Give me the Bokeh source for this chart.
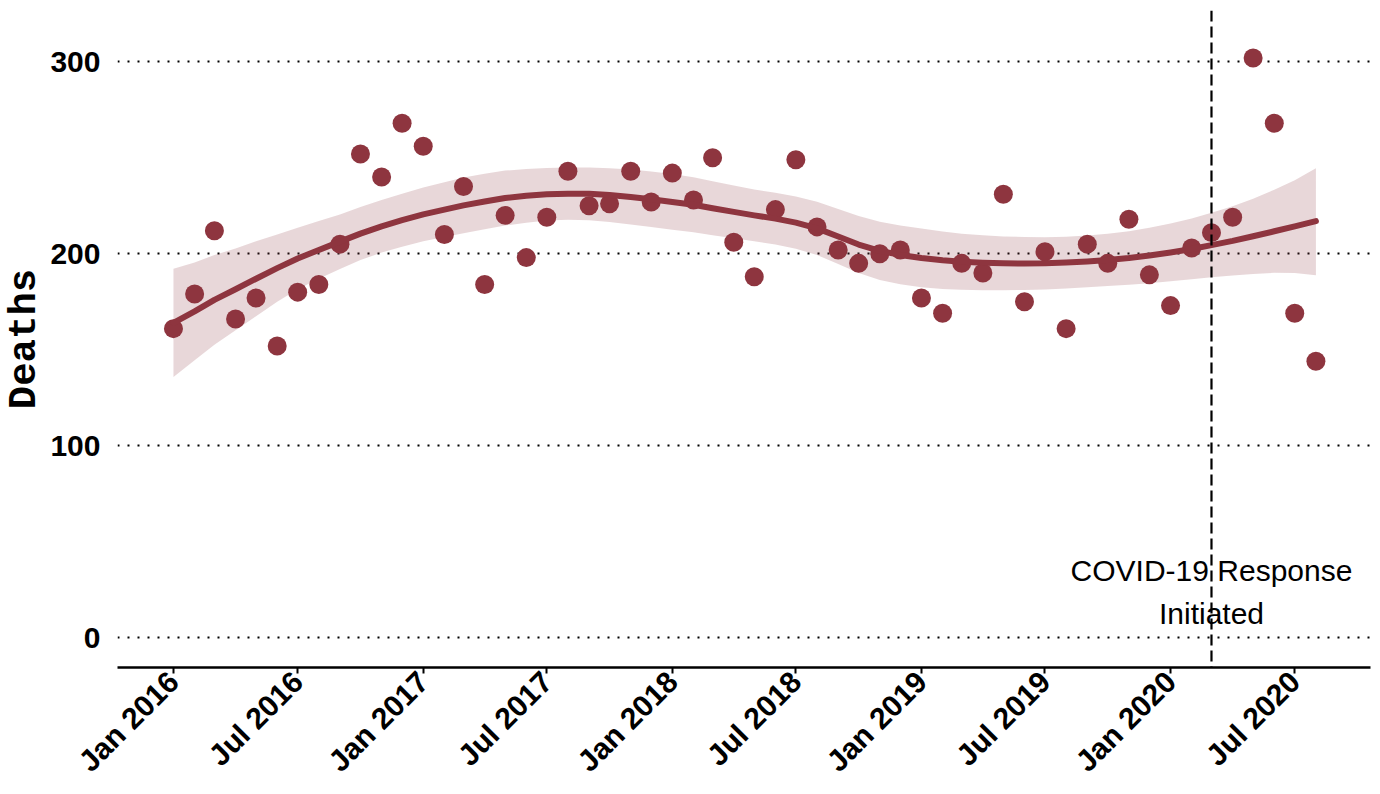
import pandas as pd
from math import pi
from bokeh.plotting import figure
from bokeh.models import Range1d, FixedTicker, DatetimeTickFormatter, Span, ColumnDataSource
from bokeh.core.properties import value
from bokeh.embed import file_html
from bokeh.resources import INLINE

RED = "#8E353F"

# Monthly deaths, Jan 2016 .. Aug 2020
months = list(pd.date_range("2016-01-01", "2020-08-01", freq="MS"))
deaths = [
    161, 179, 212, 166, 177, 152, 180, 184, 205, 252, 240, 268,   # 2016
    256, 210, 235, 184, 220, 198, 219, 243, 225, 226, 243, 227,   # 2017
    242, 228, 250, 206, 188, 223, 249, 214, 202, 195, 200, 202,   # 2018
    177, 169, 195, 190, 231, 175, 201, 161, 205, 195, 218, 189,   # 2019
    173, 203, 211, 219, 302, 268, 169, 144,                       # 2020
]

# Smoothed trend and its confidence band (monthly)
fit_mid = [
    164, 170, 176, 181.5, 187, 192.5, 197.5, 202, 206.3, 210.5, 214.3, 217.5,
    220.5, 223, 225.2, 227.2, 229, 230.2, 231, 231.3, 231.2, 230.6, 229.6, 228.4,
    227, 225.5, 223.7, 221.8, 220, 218.3, 216.2, 213.2, 209, 204.8, 201.5, 199.4,
    197.8, 196.6, 195.8, 195.3, 195, 194.9, 195, 195.4, 196, 196.8, 197.8, 199.1,
    200.7, 202.5, 204.5, 206.7, 209.1, 211.7, 214.3, 217,
]
fit_hi = [
    192.2, 195.5, 199.4, 202.8, 206.5, 210, 213.5, 217, 220.5, 224.3, 228, 231.3,
    234.5, 237.3, 239.7, 241.7, 243.3, 244.2, 244.7, 244.9, 244.9, 244.6, 243.9, 242.9,
    241.5, 239.8, 237.7, 235.5, 233.5, 231.8, 229.8, 227.1, 223.3, 219.6, 216.7, 214.7,
    213.1, 211.6, 210.4, 209.6, 209, 208.7, 208.6, 208.9, 209.5, 210.4, 211.7, 213.5,
    215.7, 218.3, 221.3, 224.7, 228.7, 233.3, 238.3, 244.5,
]
fit_lo = [
    135.8, 144.5, 152.6, 160.2, 167.5, 175, 181.5, 187, 192.1, 196.7, 200.6, 203.7,
    206.5, 208.7, 210.7, 212.7, 214.7, 216.2, 217.3, 217.7, 217.5, 216.6, 215.3, 213.9,
    212.5, 211.2, 209.7, 208.1, 206.5, 204.8, 202.6, 199.3, 194.7, 190, 186.3, 184.1,
    182.5, 181.6, 181.2, 181, 181, 181.1, 181.4, 181.9, 182.5, 183.2, 183.9, 184.7,
    185.7, 186.7, 187.7, 188.7, 189.5, 190.1, 190, 188.8,
]

tick_dates = list(pd.date_range("2016-01-01", "2020-07-01", freq="6MS"))
y_ticks = [0, 100, 200, 300]
event_date = pd.Timestamp("2020-03-01")
event_labels = ["COVID-19 Response", "Initiated"]
event_label_y = [35, 12.7]


def ms(t):
    return pd.Timestamp(t).value / 1e6


p = figure(width=1380, height=794, x_axis_type="datetime",
           output_backend="svg", toolbar_location=None,
           x_range=Range1d(ms("2015-10-11"), ms("2020-10-20")),
           y_range=Range1d(-15.5, 326.7),
           min_border_left=117, min_border_right=10, min_border_top=10, min_border_bottom=127)
p.outline_line_color = None
p.background_fill_color = "white"
p.border_fill_color = "white"

src = ColumnDataSource(dict(x=[ms(t) for t in months], y=deaths,
                            mid=fit_mid, hi=fit_hi, lo=fit_lo))

p.varea(x="x", y1="lo", y2="hi", source=src, fill_color=RED, fill_alpha=0.2)
p.scatter(x="x", y="y", source=src, size=19, fill_color=RED, line_color=None)
p.line(x="x", y="mid", source=src, line_color=RED, line_width=6, line_cap="round",
       line_join="round")

p.add_layout(Span(location=ms(event_date), dimension="height", line_color="black",
                  line_dash="11 5", line_width=2.2))
p.text(x=[ms(event_date)] * 2, y=event_label_y, text=event_labels,
       text_align="center", text_baseline="middle",
       text_font=value("Liberation Sans"), text_font_size="30px", text_color="black")

# x axis
p.xaxis.ticker = FixedTicker(ticks=[ms(t) for t in tick_dates])
fmt = "%b %Y"
p.xaxis.formatter = DatetimeTickFormatter(years=fmt, months=fmt, days=fmt, hours=fmt,
                                          minutes=fmt, seconds=fmt, milliseconds=fmt,
                                          microseconds=fmt, hourmin=fmt, minsec=fmt)
p.xaxis.major_label_orientation = pi / 4
p.xaxis.major_label_text_font = "Liberation Sans"
p.xaxis.major_label_text_font_style = "bold"
p.xaxis.major_label_text_font_size = "30px"
p.xaxis.major_label_text_color = "black"
p.xaxis.axis_line_color = "black"
p.xaxis.axis_line_width = 2.5
p.xaxis.major_tick_line_color = "black"
p.xaxis.major_tick_line_width = 2
p.xaxis.major_tick_out = 6
p.xaxis.major_tick_in = 0
p.xaxis.minor_tick_line_color = None
p.xaxis.major_label_standoff = 3

# y axis
p.yaxis.ticker = FixedTicker(ticks=y_ticks)
p.yaxis.axis_line_color = None
p.yaxis.major_tick_line_color = None
p.yaxis.minor_tick_line_color = None
p.yaxis.major_label_standoff = 11
p.yaxis.major_label_text_font = "Liberation Sans"
p.yaxis.major_label_text_font_style = "bold"
p.yaxis.major_label_text_font_size = "30px"
p.yaxis.major_label_text_color = "black"
p.yaxis.axis_label = "Deaths"
p.yaxis.axis_label_text_font = "Liberation Mono"
p.yaxis.axis_label_text_font_style = "bold"
p.yaxis.axis_label_text_font_size = "39px"
p.yaxis.axis_label_text_color = "black"
p.yaxis.axis_label_standoff = 0

p.xgrid.grid_line_color = None
p.ygrid.grid_line_color = "black"
p.ygrid.grid_line_width = 2
p.ygrid.grid_line_dash = "2 8"

open("out.html", "w").write(file_html(p, INLINE))
